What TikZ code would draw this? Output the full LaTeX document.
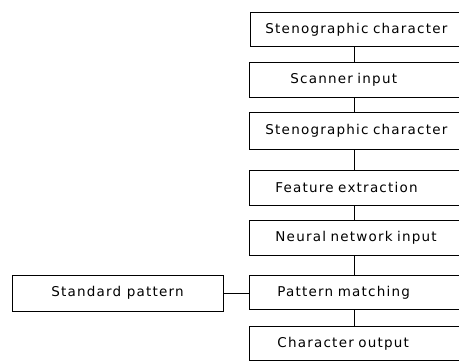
\documentclass[tikz,border=0pt]{standalone}
\usepackage{fontspec}
\setmainfont{DejaVu Sans}[LetterSpace=9]
\begin{document}
\begin{tikzpicture}[x=1pt,y=-1pt,
  box/.style={draw, line width=0.9pt, rectangle, anchor=north west,
    minimum height=35pt, text width=220pt, align=left, inner ysep=0pt,
    font=\fontsize{13.5}{15}\selectfont},
  link/.style={draw, line width=0.9pt}]
\useasboundingbox (0,0) rectangle (459,362);
\clip (0,0) rectangle (459,362);
\coordinate (spine) at (354,0);
% process chain on the right
\node[box, minimum height=34pt, inner xsep=15pt] (b1) at (250,12) {Stenographic character};
\node[box, inner xsep=41pt] (b2) at (249,62) {Scanner input};
\node[box, minimum height=37pt, inner xsep=16pt] (b3) at (249,112) {Stenographic character};
\node[box, inner xsep=26pt] (b4) at (249,170) {Feature extraction};
\node[box, inner xsep=26pt] (b5) at (249,220) {Neural network input};
\node[box, minimum height=34pt, inner xsep=28pt] (b6) at (249,275) {Pattern matching};
\node[box, minimum height=34pt, inner xsep=28pt] (b7) at (249,326) {Character output};
% reference pattern store
\node[draw, line width=0.9pt, minimum width=211pt, minimum height=36pt, inner sep=0pt,
  font=\fontsize{13.5}{15}\selectfont] (sp) at (117.5,293) {Standard pattern};
% connectors
\foreach \a/\b in {b1/b2,b2/b3,b3/b4,b4/b5,b5/b6,b6/b7}
  \draw[link] (\a.south -| spine) -- (\b.north -| spine);
\draw[link] (sp.east) -- (sp.east -| b6.west);
\end{tikzpicture}
\end{document}
